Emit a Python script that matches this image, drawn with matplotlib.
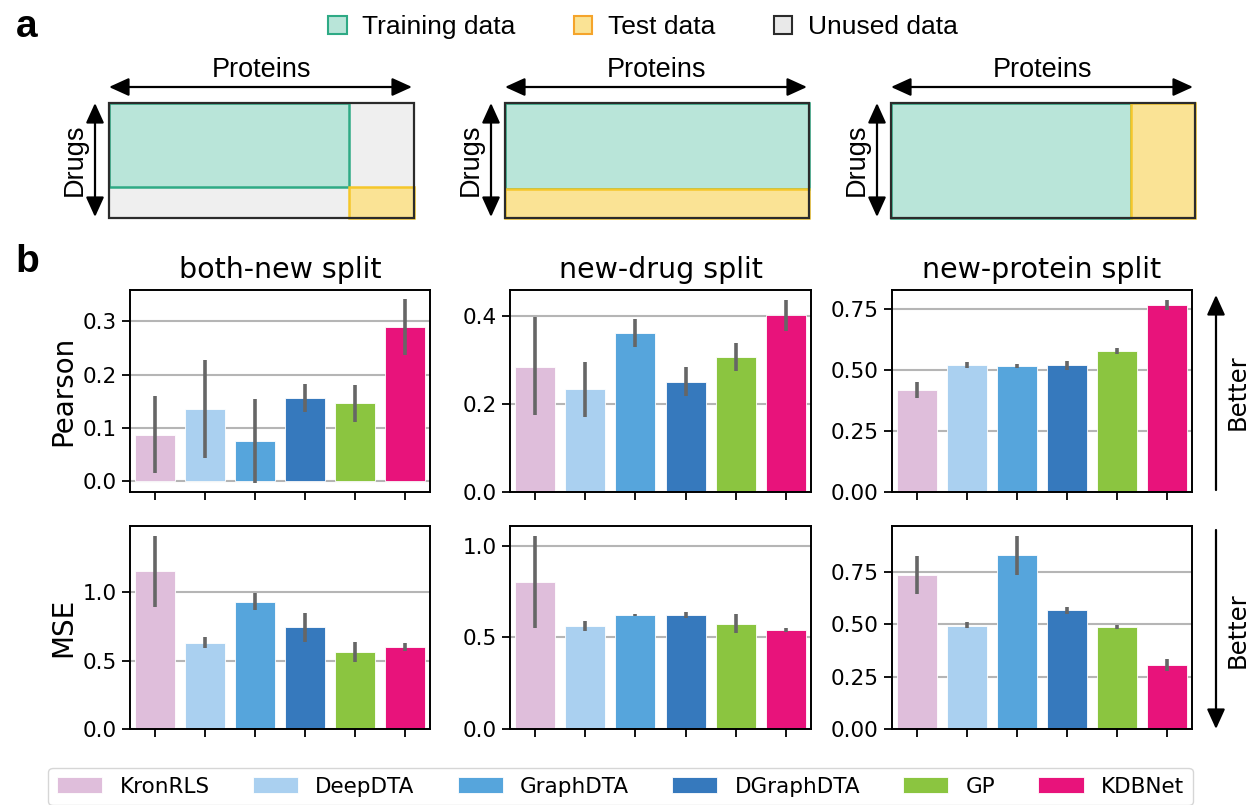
import matplotlib
matplotlib.use("Agg")
import matplotlib.pyplot as plt
import numpy as np
from matplotlib.patches import Rectangle, Patch

# ---------------- data ----------------
models = ["KronRLS", "DeepDTA", "GraphDTA", "DGraphDTA", "GP", "KDBNet"]
model_colors = ["#dfbedb", "#aad0f0", "#56a5dc", "#3679bd", "#8bc540", "#e8137b"]
splits = ["both-new split", "new-drug split", "new-protein split"]

pearson_mean = [
    [0.087, 0.135, 0.074, 0.156, 0.147, 0.290],
    [0.285, 0.233, 0.361, 0.251, 0.307, 0.401],
    [0.419, 0.520, 0.515, 0.518, 0.575, 0.765],
]
pearson_lo = [
    [0.015, 0.043, -0.004, 0.129, 0.110, 0.237],
    [0.176, 0.171, 0.330, 0.218, 0.275, 0.365],
    [0.385, 0.509, 0.509, 0.498, 0.563, 0.746],
]
pearson_hi = [
    [0.160, 0.227, 0.153, 0.183, 0.181, 0.342],
    [0.397, 0.296, 0.394, 0.283, 0.339, 0.437],
    [0.452, 0.532, 0.524, 0.537, 0.588, 0.787],
]
mse_mean = [
    [1.155, 0.630, 0.931, 0.743, 0.565, 0.601],
    [0.804, 0.565, 0.623, 0.621, 0.576, 0.539],
    [0.736, 0.493, 0.830, 0.568, 0.487, 0.307],
]
mse_lo = [
    [0.894, 0.594, 0.872, 0.635, 0.491, 0.569],
    [0.550, 0.535, 0.617, 0.605, 0.526, 0.530],
    [0.645, 0.480, 0.734, 0.547, 0.477, 0.276],
]
mse_hi = [
    [1.412, 0.674, 0.990, 0.845, 0.633, 0.625],
    [1.056, 0.592, 0.630, 0.641, 0.627, 0.550],
    [0.827, 0.508, 0.922, 0.584, 0.496, 0.335],
]
pearson_ticks = [[0.0, 0.1, 0.2, 0.3], [0.0, 0.2, 0.4], [0.0, 0.25, 0.5, 0.75]]
mse_ticks = [[0.0, 0.5, 1.0], [0.0, 0.5, 1.0], [0.0, 0.25, 0.5, 0.75]]

# schematic split fractions (training block width / height in the matrix)
train_frac_x = [0.786, 1.0, 0.79]
train_frac_y = [0.73, 0.75, 1.0]

train_fc, train_ec = "#b9e5d9", "#2eaa85"
test_fc, test_ec = "#fae395", "#f5c72a"
unused_fc, unused_ec = "#efefef", "#2b2b2b"

W, H = 1249, 805
fig = plt.figure(figsize=(W / 100, H / 100), dpi=100)


def px_axes(x0, y0, x1, y1):
    return fig.add_axes([x0 / W, 1 - y1 / H, (x1 - x0) / W, (y1 - y0) / H])


# overlay in pixel coordinates for arrows / panel letters
over = fig.add_axes([0, 0, 1, 1])
over.set_xlim(0, W)
over.set_ylim(H, 0)
over.axis("off")

sans = ["Liberation Sans", "DejaVu Sans"]
arrow2 = dict(arrowstyle="<|-|>,head_length=0.55,head_width=0.25", color="black",
              lw=1.6, mutation_scale=22, shrinkA=0, shrinkB=0)
arrow1 = dict(arrowstyle="-|>,head_length=0.55,head_width=0.25", color="black",
              lw=1.6, mutation_scale=22, shrinkA=0, shrinkB=0)

# ---------------- panel a ----------------
diag_x = [(109, 414), (505, 809), (891, 1195)]
diag_y = (103, 218)
for i, (x0, x1) in enumerate(diag_x):
    ax = px_axes(x0, diag_y[0], x1, diag_y[1])
    ax.set_xlim(0, 1)
    ax.set_ylim(1, 0)
    ax.axis("off")
    tx, ty = train_frac_x[i], train_frac_y[i]
    ax.add_patch(Rectangle((0, 0), 1, 1, fc=unused_fc, ec="none", clip_on=False))
    ax.add_patch(Rectangle((0, 0), tx, ty, fc=train_fc, ec=train_ec, lw=1.8, clip_on=False))
    sx = tx if tx < 1 else 0
    sy = ty if ty < 1 else 0
    ax.add_patch(Rectangle((sx, sy), 1 - sx, 1 - sy, fc=test_fc, ec=test_ec, lw=1.8, clip_on=False))
    ax.add_patch(Rectangle((0, 0), 1, 1, fc="none", ec=unused_ec, lw=1.6, clip_on=False))

    over.annotate("", xy=(x1 - 2, 87), xytext=(x0, 87), arrowprops=arrow2)
    over.text((x0 + x1) / 2, 70, "Proteins", ha="center", va="center",
              fontsize=19.5, family=sans)
    over.annotate("", xy=(x0 - 14, 217), xytext=(x0 - 14, 103), arrowprops=arrow2)
    over.text(x0 - 34, 160, "Drugs", ha="center", va="center", rotation=90,
              fontsize=19.5, family=sans)

fig.legend(handles=[Patch(fc=train_fc, ec=train_ec, lw=1.5),
                    Patch(fc=test_fc, ec="#f5a42b", lw=1.5),
                    Patch(fc="#e9e9e9", ec=unused_ec, lw=1.5)],
           labels=["Training data", "Test data", "Unused data"],
           ncol=3, loc="center", bbox_to_anchor=(643 / W, 1 - 27 / H), frameon=False,
           prop={"family": sans, "size": 19}, handlelength=0.7, handleheight=0.7,
           handletextpad=0.6, columnspacing=2.2, borderaxespad=0)

over.text(27, 27, "a", ha="center", va="center", fontsize=28, fontweight="bold", family=sans)
over.text(27, 262, "b", ha="center", va="center", fontsize=28, fontweight="bold", family=sans)

# ---------------- panel b ----------------
cols = [(130, 430), (510, 811), (892, 1192)]
rows = [(290, 492), (526, 729)]
x = np.arange(len(models))

for r, (means, los, his, ticks, label) in enumerate([
        (pearson_mean, pearson_lo, pearson_hi, pearson_ticks, "Pearson"),
        (mse_mean, mse_lo, mse_hi, mse_ticks, "MSE")]):
    for c in range(3):
        ax = px_axes(cols[c][0], rows[r][0], cols[c][1], rows[r][1])
        m = np.array(means[c])
        lo = np.array(los[c])
        hi = np.array(his[c])
        ax.bar(x, m, width=0.8, color=model_colors, edgecolor="white", linewidth=0.6,
               yerr=[m - lo, hi - m],
               error_kw=dict(ecolor="#666666", elinewidth=2.6, capsize=0, zorder=3),
               zorder=2)
        ax.set_xlim(-0.5, 5.5)
        ax.set_xticks(x)
        ax.set_xticklabels([])
        ax.set_yticks(ticks[c])
        ax.set_axisbelow(True)
        ax.yaxis.grid(True, color="#b5b5b5", lw=1.5)
        ax.tick_params(labelsize=15.5, length=6, width=1.3)
        for s in ax.spines.values():
            s.set_linewidth(1.4)
        if r == 0:
            ax.set_title(splits[c], fontsize=20.5, pad=9)
        if c == 0:
            ax.set_ylabel(label, fontsize=20)

# "Better" arrows
over.annotate("", xy=(1216, 295), xytext=(1216, 490), arrowprops=arrow1)
over.text(1238, 392, "Better", ha="center", va="center", rotation=90, fontsize=17.5)
over.annotate("", xy=(1216, 729), xytext=(1216, 530), arrowprops=arrow1)
over.text(1238, 630, "Better", ha="center", va="center", rotation=90, fontsize=17.5)

# bottom legend
fig.legend(handles=[Patch(fc=col, ec="white", lw=0.6) for col in model_colors],
           labels=models, ncol=6, loc="upper center",
           bbox_to_anchor=(620.5 / W, 1 - 768 / H), fontsize=15.5,
           handlelength=2.1, handleheight=0.8, handletextpad=0.8, columnspacing=2.0,
           frameon=True, edgecolor="#cccccc", fancybox=True, borderpad=0.4,
           borderaxespad=0)

fig.savefig("out.png", dpi=100)
